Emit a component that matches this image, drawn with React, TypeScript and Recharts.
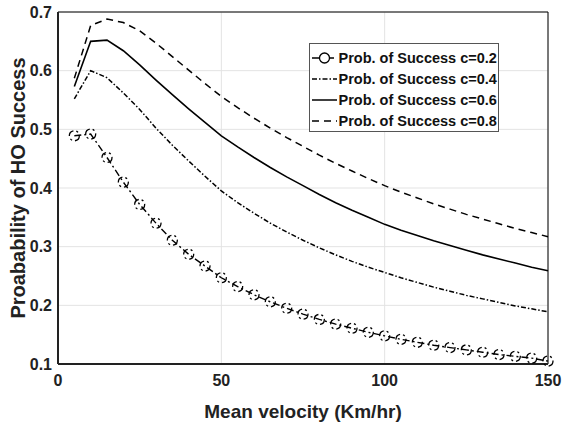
import React from "react"
import { LineChart, Line, XAxis, YAxis, CartesianGrid, Legend, ReferenceLine } from "recharts"

const velocity = [5, 10, 15, 20, 25, 30, 35, 40, 45, 50, 55, 60, 65, 70, 75, 80, 85, 90, 95, 100, 105, 110, 115, 120, 125, 130, 135, 140, 145, 150]

const successC02 = [0.489, 0.492, 0.452, 0.410, 0.372, 0.340, 0.311, 0.287, 0.267, 0.247, 0.232, 0.218, 0.206, 0.195, 0.185, 0.176, 0.168, 0.161, 0.154, 0.148, 0.142, 0.137, 0.132, 0.128, 0.124, 0.120, 0.116, 0.113, 0.110, 0.105]
const successC04 = [0.552, 0.600, 0.588, 0.562, 0.534, 0.502, 0.473, 0.446, 0.420, 0.395, 0.375, 0.357, 0.340, 0.325, 0.311, 0.298, 0.286, 0.275, 0.265, 0.256, 0.247, 0.239, 0.231, 0.224, 0.217, 0.211, 0.205, 0.199, 0.194, 0.189]
const successC06 = [0.573, 0.650, 0.652, 0.634, 0.610, 0.584, 0.559, 0.535, 0.512, 0.489, 0.470, 0.452, 0.435, 0.419, 0.404, 0.389, 0.375, 0.362, 0.350, 0.338, 0.328, 0.319, 0.310, 0.302, 0.294, 0.286, 0.279, 0.272, 0.265, 0.259]
const successC08 = [0.587, 0.677, 0.688, 0.682, 0.668, 0.647, 0.624, 0.601, 0.578, 0.556, 0.537, 0.519, 0.502, 0.486, 0.471, 0.456, 0.442, 0.429, 0.416, 0.404, 0.393, 0.383, 0.373, 0.364, 0.355, 0.347, 0.339, 0.331, 0.324, 0.317]

const xTicks = [0, 50, 100, 150]
const yTicks = [0.1, 0.2, 0.3, 0.4, 0.5, 0.6, 0.7]

const seriesNames = ["Prob. of Success c=0.2", "Prob. of Success c=0.4", "Prob. of Success c=0.6", "Prob. of Success c=0.8"]

const data = velocity.map((v, i) => ({
  v,
  c02: successC02[i],
  c04: successC04[i],
  c06: successC06[i],
  c08: successC08[i],
}))

const font = "'Liberation Sans', Arial, Helvetica, sans-serif"
const dashes = ["7 3 2 3", "5 2 1.5 2", undefined, "7 5"]

function LegendBox() {
  return (
    <div style={{ width: 188, height: 87, border: "1px solid #555", background: "#fff" }}>
      <svg width={188} height={87} style={{ display: "block" }}>
        {seriesNames.map((name, i) => {
          const y = 14 + i * 21
          return (
            <g key={name}>
              <line x1={2} x2={27} y1={y} y2={y} stroke="#000" strokeWidth={1.5} strokeDasharray={dashes[i]} />
              {i === 0 && <circle cx={14.5} cy={y} r={5} fill="#fff" stroke="#000" strokeWidth={1.3} />}
              <text x={28.5} y={y + 5} fontFamily={font} fontWeight={700} fontSize={14.5} fill="#111">
                {name}
              </text>
            </g>
          )
        })}
      </svg>
    </div>
  )
}

export default function App() {
  const tickStyle = { fontSize: 16, fontWeight: 700, fill: "#222", fontFamily: font }
  return (
    <div style={{ position: "absolute", left: 0, top: 0, width: 565, height: 422, background: "#fff" }}>
      <LineChart width={565} height={422} data={data} margin={{ top: 12, right: 17, bottom: 0, left: 0 }}>
        <CartesianGrid stroke="#e3e3e3" strokeWidth={1} />
        <XAxis
          dataKey="v"
          type="number"
          domain={[0, 150]}
          ticks={xTicks}
          height={58}
          tickLine={false}
          tickSize={0}
          tickMargin={11}
          tick={tickStyle}
          axisLine={{ stroke: "#222", strokeWidth: 2 }}
          label={{
            value: "Mean velocity (Km/hr)",
            position: "insideBottom",
            offset: 4,
            style: { fontSize: 19, fontWeight: 700, fill: "#222", fontFamily: font },
          }}
        />
        <YAxis
          type="number"
          domain={[0.1, 0.7]}
          ticks={yTicks}
          width={58}
          tickLine={false}
          tickSize={0}
          tickMargin={6}
          tick={tickStyle}
          tickFormatter={(t: number) => t.toFixed(1)}
          axisLine={{ stroke: "#222", strokeWidth: 2 }}
          label={{
            value: "Proabability of HO Success",
            angle: -90,
            position: "insideLeft",
            offset: 18,
            style: { fontSize: 20, fontWeight: 700, fill: "#222", fontFamily: font, textAnchor: "middle" },
          }}
        />
        <ReferenceLine y={0.7} stroke="#000" strokeWidth={1} />
        <ReferenceLine x={150} stroke="#000" strokeWidth={1} />
        <Legend
          layout="vertical"
          align="center"
          verticalAlign="middle"
          content={() => <LegendBox />}
          wrapperStyle={{ left: 309, top: 43, right: "auto", bottom: "auto", width: 190 }}
        />
        <Line type="linear" dataKey="c02" name={seriesNames[0]} stroke="#000" strokeWidth={1.4} strokeDasharray="7 3 2 3"
          dot={{ r: 5, stroke: "#000", strokeWidth: 1.3, fill: "none" }} activeDot={false} isAnimationActive={false} />
        <Line type="linear" dataKey="c04" name={seriesNames[1]} stroke="#000" strokeWidth={1.5} strokeDasharray="5 2 1.5 2"
          dot={false} activeDot={false} isAnimationActive={false} />
        <Line type="linear" dataKey="c06" name={seriesNames[2]} stroke="#000" strokeWidth={1.6}
          dot={false} activeDot={false} isAnimationActive={false} />
        <Line type="linear" dataKey="c08" name={seriesNames[3]} stroke="#000" strokeWidth={1.5} strokeDasharray="7 5"
          dot={false} activeDot={false} isAnimationActive={false} />
      </LineChart>
    </div>
  )
}
